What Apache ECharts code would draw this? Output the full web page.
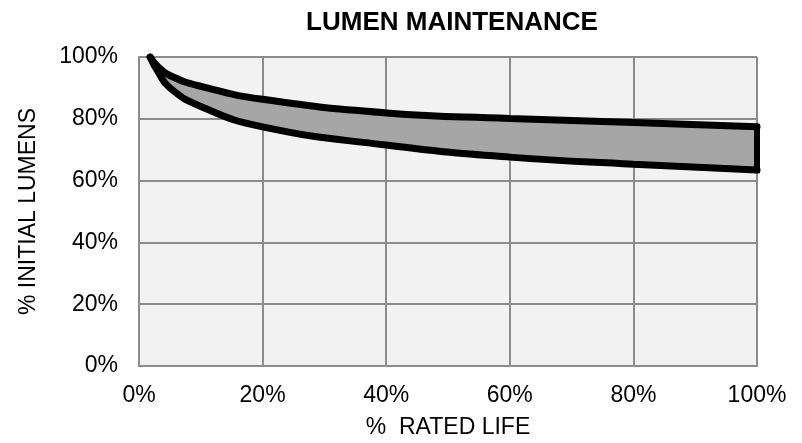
<!DOCTYPE html>
<html>
<head>
<meta charset="utf-8">
<script src="https://cdn.jsdelivr.net/npm/echarts@6/dist/echarts.min.js"></script>
<style>
	html, body { margin: 0; padding: 0; background: #fff; }
	#chart { width: 802px; height: 443px; }
</style>
</head>
<body>
<div id="chart"></div>
<script>
// % rated life vs % initial lumens
var upperLife = [1.8, 3, 5, 10, 20, 40, 60, 80, 100];
var upperLumens = [100, 97, 94, 90.5, 86.3, 81.9, 80.1, 78.8, 77.4];
var lowerLife = [1.8, 3, 5, 10, 20, 40, 60, 80, 100];
var lowerLumens = [100, 95.5, 90, 84, 77.4, 71.5, 67.6, 65.3, 63.4];
var axisTicks = [0, 20, 40, 60, 80, 100];

function pairs(xs, ys) {
	return xs.map(function (x, i) { return [x, ys[i]]; });
}
var upperData = pairs(upperLife, upperLumens);
var lowerData = pairs(lowerLife, lowerLumens);

var font = 'Liberation Sans, Arial, sans-serif';
var gridColor = '#8c8c8c';

var myChart = echarts.init(document.getElementById('chart'));
var option = {
	animation: false,
	title: {
		text: 'LUMEN MAINTENANCE',
		left: 447,
		top: 5,
		textAlign: 'center',
		textStyle: { fontFamily: font, fontSize: 26, fontWeight: 'bold', color: '#000' }
	},
	grid: {
		left: 139, right: 45, top: 57, bottom: 77,
		outerBoundsMode: 'none',
		show: true,
		backgroundColor: '#f2f2f2',
		borderWidth: 0
	},
	xAxis: {
		type: 'value',
		min: axisTicks[0],
		max: axisTicks[axisTicks.length - 1],
		interval: 20,
		name: '%  RATED LIFE',
		nameLocation: 'middle',
		nameGap: 50,
		nameTextStyle: { fontFamily: font, fontSize: 23, color: '#000' },
		axisLine: { show: true, lineStyle: { color: gridColor, width: 2 } },
		axisTick: { show: false },
		axisLabel: {
			margin: 18,
			fontFamily: font, fontSize: 23, color: '#000',
			formatter: '{value}%'
		},
		splitLine: { show: true, lineStyle: { color: gridColor, width: 2 } }
	},
	yAxis: {
		type: 'value',
		min: axisTicks[0],
		max: axisTicks[axisTicks.length - 1],
		interval: 20,
		name: '% INITIAL LUMENS',
		nameLocation: 'middle',
		nameGap: 99,
		nameTextStyle: { fontFamily: font, fontSize: 23, color: '#000' },
		axisLine: { show: true, lineStyle: { color: gridColor, width: 2 } },
		axisTick: { show: false },
		axisLabel: {
			margin: 21,
			fontFamily: font, fontSize: 23, color: '#000',
			formatter: '{value}%'
		},
		splitLine: { show: true, lineStyle: { color: gridColor, width: 2 } }
	},
	series: [
		{
			// shaded band between the two curves
			type: 'custom',
			data: [0],
			silent: true,
			renderItem: function (params, api) {
				var pts = upperData.map(function (p) { return api.coord(p); });
				var low = lowerData.slice().reverse().map(function (p) { return api.coord(p); });
				var pUp = api.coord(upperData[upperData.length - 1]);
				var pLow = api.coord(lowerData[lowerData.length - 1]);
				return {
					type: 'group',
					children: [
						{
							type: 'polygon',
							shape: { points: pts.concat(low) },
							style: { fill: '#a6a6a6', stroke: 'none' }
						},
						{
							type: 'line',
							shape: { x1: pUp[0], y1: pUp[1], x2: pLow[0], y2: pLow[1] },
							style: { stroke: '#000', lineWidth: 6, lineCap: 'square' }
						}
					]
				};
			}
		},
		{
			type: 'line',
			data: upperData,
			smooth: 0.5,
			symbol: 'none',
			lineStyle: { color: '#000', width: 7, cap: 'round' }
		},
		{
			type: 'line',
			data: lowerData,
			smooth: 0.5,
			symbol: 'none',
			lineStyle: { color: '#000', width: 7, cap: 'round' }
		}
	]
};
myChart.setOption(option);
</script>
</body>
</html>
